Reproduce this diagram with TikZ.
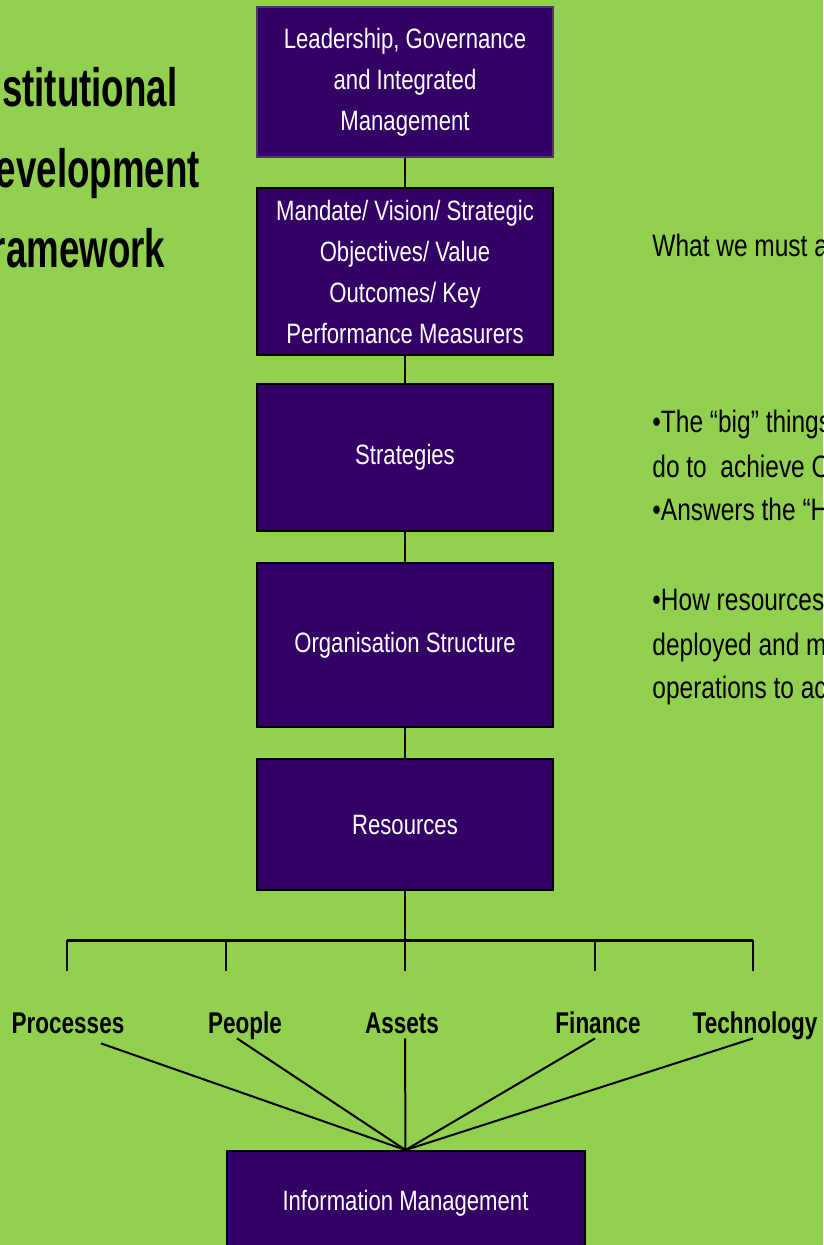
\documentclass[tikz,border=0pt]{standalone}
\usepackage{fontspec}
\setmainfont{Liberation Sans}[FakeStretch=0.79]
\newfontfamily\titlefont{Liberation Sans}[FakeStretch=0.68]
\newfontfamily\areafont{Liberation Sans}[FakeStretch=0.75]
\definecolor{slidegreen}{HTML}{92D050}
\definecolor{boxpurple}{HTML}{330066}
\definecolor{boxedge}{HTML}{4A3A63}
\tikzset{
  box/.style={draw=black, line width=1pt, fill=boxpurple, text=white, minimum width=148pt,
    align=center, inner sep=2pt, font=\fontsize{14}{20.5}\selectfont},
  link/.style={line width=1pt},
  area/.style={font=\areafont\bfseries\fontsize{15}{18}\selectfont, inner sep=0pt, text depth=0pt, anchor=base},
  note/.style={font=\fontsize{15.5}{18}\selectfont, inner sep=0pt, anchor=base west},
  heading/.style={font=\titlefont\bfseries\fontsize{27}{32}\selectfont, inner sep=0pt, anchor=base west}
}
\begin{document}
\begin{tikzpicture}[x=0.5pt,y=-0.5pt]
      \useasboundingbox (0,0) rectangle (823,1245);
      \fill[slidegreen] (0,0) rectangle (823,1245);
      \clip (0,0) rectangle (823,1245);
      % title, cut off at the left edge
      \node[heading] (inst) at (-31,107) {Institutional};
      \node[heading] (devt) at (-31,188) {Development};
      \node[heading] (frame) at (-31,268) {Framework};
      % main column
      \node[box, draw=boxedge, line width=0.75pt, minimum height=75pt] (lead) at (405,82)
        {Leadership, Governance\\and Integrated\\Management};
      \node[box, minimum height=83.5pt] (mand) at (405,271.5)
        {Mandate/ Vision/ Strategic\\Objectives/ Value\\Outcomes/ Key\\Performance Measurers};
      \node[box, minimum height=73.5pt] (strat) at (405,457.5) {Strategies};
      \node[box, minimum height=82pt] (org) at (405,645) {Organisation Structure};
      \node[box, minimum height=65.5pt] (res) at (405,824.5) {Resources};
      \node[box, minimum width=179pt, minimum height=52pt] (info) at (405.5,1203) {Information Management};
      \draw[link] (lead.south) -- (mand.north);
      \draw[link] (mand.south) -- (strat.north);
      \draw[link] (strat.south) -- (org.north);
      \draw[link] (org.south) -- (res.north);
      % notes on the right
      \node[note] (must) at (652,257) {What we must achieve};
      \node[note] (big) at (652,432) {•The “big” things we must};
      \node[note] (reach) at (652,477) {do to\ \ achieve Outcomes};
      \node[note] (how) at (652,520) {•Answers the “How”};
      \node[note] (deploy) at (652,610) {•How resources are};
      \node[note] (manage) at (652,655) {deployed and managed in};
      \node[note] (oper) at (652,698) {operations to achieve};
      % resource areas
      \coordinate (bus) at (405,940);
      \coordinate (busL) at (67,940);
      \coordinate (busR) at (753,940);
      \draw[link] (res.south) -- (bus);
      \draw[line width=1.5pt] (busL) -- (busR);
      \foreach \x in {67,226,405,595,753} {
        \draw[link] (\x,940) -- (\x,971);
      }
      \node[area] (proc) at (68,1033) {Processes};
      \node[area] (people) at (245,1033) {People};
      \node[area] (assets) at (402,1033) {Assets};
      \node[area] (fin) at (598,1033) {Finance};
      \node[area] (tech) at (755,1033) {Technology};
      \draw[link] ([xshift=16.5pt,yshift=-5pt]proc.south) -- (info.north);
      \draw[link] ([xshift=-4pt,yshift=-2.5pt]people.south) -- (info.north);
      \draw[link] ([xshift=1.5pt,yshift=-2.5pt]assets.south) -- (info.north);
      \draw[link] ([xshift=-1.5pt,yshift=-2.5pt]fin.south) -- (info.north);
      \draw[link] ([xshift=-1pt,yshift=-2.5pt]tech.south) -- (info.north);
\end{tikzpicture}
\end{document}
